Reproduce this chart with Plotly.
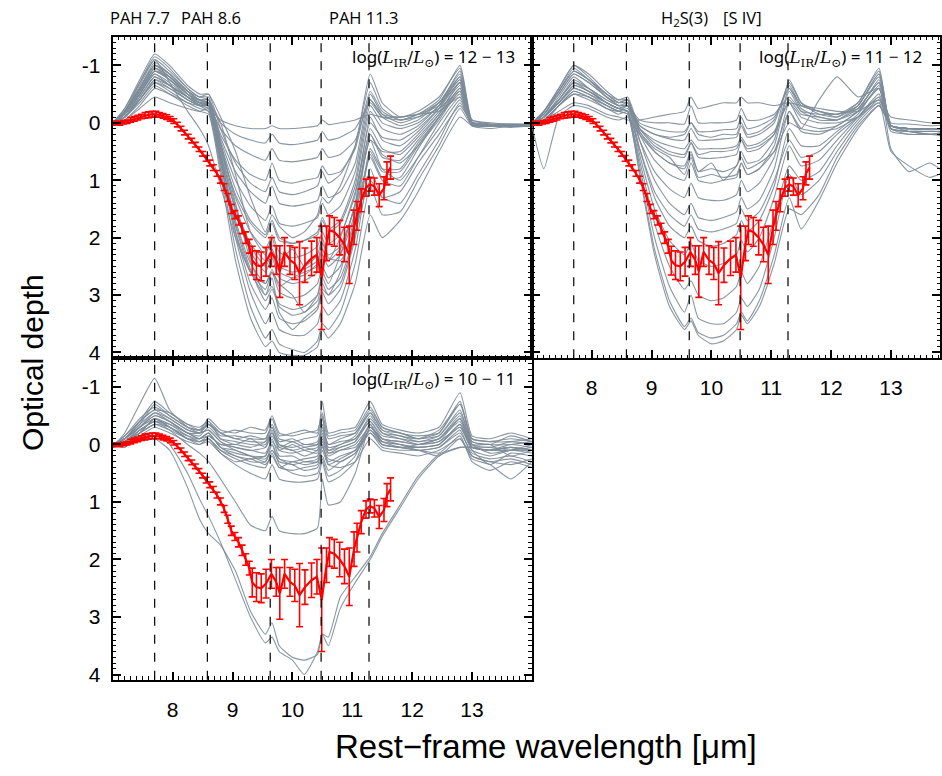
import plotly.graph_objects as go

# ---------------- data ----------------
WL = [7.00, 7.20, 7.45, 7.70, 7.95, 8.25, 8.45, 8.60, 8.80, 9.05, 9.30, 9.55, 9.66, 9.78,
      10.00, 10.20, 10.42, 10.50, 10.60, 10.80, 11.05, 11.30, 11.50, 11.80, 12.10, 12.45,
      12.80, 13.00, 13.30, 13.65, 14.00]

# log L = 12-13 (top-left)
TL = [
    [0.02, -0.05, -0.25, -0.45, -0.35, -0.25, -0.2, -0.25, -0.05, 0.05, 0.1, 0.1, 0.05, 0.1, 0.1, 0.08, 0.05, -0.05, 0.03, 0.0, -0.05, -0.15, -0.1, -0.1, -0.15, -0.2, -0.45, -0.05, 0.0, 0.02, 0.02],
    [0.0, -0.1, -0.4, -0.7, -0.55, -0.35, -0.3, -0.35, 0.0, 0.2, 0.3, 0.35, 0.2, 0.35, 0.38, 0.35, 0.3, 0.15, 0.3, 0.25, 0.1, -0.35, -0.1, -0.05, -0.1, -0.25, -0.55, 0.0, 0.02, 0.02, 0.03],
    [0.03, -0.15, -0.5, -0.85, -0.65, -0.4, -0.3, -0.3, 0.1, 0.4, 0.55, 0.65, 0.45, 0.65, 0.68, 0.65, 0.6, 0.45, 0.6, 0.55, 0.3, -0.4, -0.15, -0.1, -0.15, -0.3, -0.7, 0.0, 0.05, 0.04, 0.05],
    [0.0, -0.2, -0.6, -1.0, -0.8, -0.5, -0.35, -0.35, 0.2, 0.65, 0.9, 1.0, 0.7, 1.0, 1.05, 1.0, 0.95, 0.75, 0.9, 0.85, 0.45, -0.55, -0.2, -0.05, -0.15, -0.35, -0.75, 0.0, 0.05, 0.05, 0.03],
    [0.0, -0.25, -0.7, -1.15, -0.95, -0.6, -0.45, -0.5, 0.1, 0.7, 1.05, 1.2, 0.95, 1.2, 1.25, 1.2, 1.1, 0.85, 1.05, 0.9, 0.4, -0.85, -0.35, -0.1, -0.2, -0.45, -0.95, -0.02, 0.03, 0.04, 0.04],
    [0.02, -0.15, -0.55, -0.9, -0.75, -0.5, -0.4, -0.4, 0.25, 0.85, 1.2, 1.4, 1.1, 1.4, 1.45, 1.42, 1.35, 1.1, 1.3, 1.2, 0.7, -0.5, -0.15, 0.0, -0.1, -0.35, -0.8, 0.02, 0.05, 0.05, 0.05],
    [0.0, -0.2, -0.65, -1.1, -0.9, -0.6, -0.45, -0.45, 0.3, 1.0, 1.45, 1.7, 1.45, 1.75, 1.8, 1.75, 1.65, 1.4, 1.6, 1.45, 0.85, -0.4, -0.1, 0.05, -0.05, -0.35, -0.85, 0.0, 0.03, 0.05, 0.04],
    [0.02, -0.18, -0.6, -1.0, -0.85, -0.55, -0.4, -0.4, 0.35, 1.15, 1.7, 1.95, 1.7, 2.0, 2.1, 2.05, 1.9, 1.65, 1.85, 1.7, 1.0, -0.3, 0.0, 0.1, 0.0, -0.3, -0.9, 0.0, 0.04, 0.05, 0.05],
    [0.03, -0.1, -0.45, -0.8, -0.65, -0.45, -0.35, -0.3, 0.45, 1.25, 1.75, 2.0, 1.75, 2.05, 2.1, 2.05, 1.95, 1.7, 1.9, 1.75, 1.1, -0.2, 0.1, 0.2, 0.05, -0.3, -0.75, 0.02, 0.05, 0.06, 0.05],
    [0.0, -0.2, -0.6, -1.0, -0.85, -0.55, -0.4, -0.35, 0.4, 1.3, 1.9, 2.2, 1.95, 2.25, 2.35, 2.3, 2.15, 1.9, 2.1, 1.95, 1.25, 0.0, 0.25, 0.3, 0.1, -0.25, -0.7, 0.0, 0.04, 0.05, 0.05],
    [0.02, -0.1, -0.4, -0.7, -0.6, -0.4, -0.3, -0.25, 0.55, 1.5, 2.1, 2.4, 2.2, 2.5, 2.6, 2.55, 2.4, 2.1, 2.3, 2.15, 1.45, 0.3, 0.5, 0.5, 0.2, -0.2, -0.65, 0.03, 0.05, 0.05, 0.06],
    [0.02, -0.2, -0.55, -0.95, -0.8, -0.5, -0.38, -0.35, 0.45, 1.45, 2.15, 2.5, 2.3, 2.6, 2.7, 2.65, 2.45, 2.2, 2.4, 2.2, 1.4, -0.1, 0.3, 0.4, 0.15, -0.25, -0.8, 0.0, 0.05, 0.05, 0.05],
    [0.0, -0.15, -0.55, -0.95, -0.8, -0.5, -0.35, -0.3, 0.5, 1.55, 2.25, 2.6, 2.35, 2.7, 2.8, 2.75, 2.6, 2.3, 2.5, 2.3, 1.55, 0.1, 0.45, 0.55, 0.25, -0.15, -0.6, 0.0, 0.05, 0.04, 0.05],
    [0.03, -0.2, -0.6, -1.05, -0.85, -0.55, -0.4, -0.35, 0.55, 1.7, 2.45, 2.8, 2.6, 2.95, 3.05, 3.0, 2.8, 2.5, 2.7, 2.5, 1.7, 0.2, 0.6, 0.65, 0.3, -0.15, -0.7, 0.02, 0.06, 0.05, 0.05],
    [0.0, -0.1, -0.4, -0.75, -0.6, -0.4, -0.3, -0.25, 0.65, 1.8, 2.6, 3.0, 2.85, 3.15, 3.25, 3.2, 3.0, 2.7, 2.9, 2.7, 1.9, 0.5, 0.85, 0.85, 0.4, -0.1, -0.5, 0.03, 0.05, 0.06, 0.05],
    [0.0, -0.15, -0.5, -0.85, -0.7, -0.45, -0.32, -0.3, 0.6, 1.75, 2.55, 3.1, 2.9, 3.2, 3.35, 3.3, 3.1, 2.8, 3.0, 2.8, 1.95, 0.45, 0.8, 0.8, 0.35, -0.1, -0.6, 0.02, 0.05, 0.05, 0.05],
    [0.02, -0.15, -0.5, -0.9, -0.75, -0.5, -0.35, -0.3, 0.6, 1.9, 2.8, 3.25, 3.05, 3.4, 3.5, 3.45, 3.25, 2.95, 3.15, 2.9, 2.0, 0.55, 0.95, 0.95, 0.45, -0.1, -0.55, 0.0, 0.05, 0.05, 0.05],
    [0.0, -0.1, -0.45, -0.8, -0.65, -0.45, -0.3, -0.3, 0.7, 2.0, 2.95, 3.5, 3.3, 3.6, 3.7, 3.7, 3.5, 3.2, 3.35, 3.1, 2.2, 0.8, 1.3, 1.4, 0.9, 0.3, -0.35, 0.02, 0.05, 0.05, 0.05],
    [0.03, -0.05, -0.3, -0.6, -0.5, -0.35, -0.25, -0.2, 0.8, 2.2, 3.2, 3.75, 3.6, 3.85, 3.95, 4.0, 3.8, 3.5, 3.6, 3.3, 2.45, 1.1, 1.6, 1.55, 1.0, 0.4, -0.25, 0.05, 0.06, 0.05, 0.06],
    [0.0, -0.1, -0.35, -0.65, -0.5, -0.3, -0.2, -0.15, 0.9, 2.4, 3.4, 3.9, 3.8, 4.0, 4.05, 4.05, 3.9, 3.6, 3.75, 3.5, 2.8, 1.6, 2.0, 1.7, 1.2, 0.5, -0.1, 0.05, 0.06, 0.06, 0.05],
    [0.0, -0.2, -0.7, -1.1, -0.7, -0.2, 0.1, 0.4, 1.1, 2.0, 2.6, 2.9, 2.6, 2.8, 3.0, 3.3, 3.0, 2.6, 2.8, 2.3, 1.4, 0.3, 0.8, 1.0, 0.6, 0.1, -0.4, 0.05, 0.1, 0.05, 0.05],
    [0.02, -0.1, -0.5, -0.9, -0.8, -0.55, -0.45, -0.4, 0.0, 0.9, 1.9, 2.3, 2.0, 2.4, 2.2, 2.5, 2.3, 2.0, 2.35, 2.4, 1.9, 1.0, 1.3, 1.2, 0.7, 0.2, -0.3, 0.0, 0.05, 0.08, 0.05],
    [0.0, -0.25, -0.75, -1.2, -1.0, -0.65, -0.5, -0.5, -0.1, 0.5, 1.3, 1.9, 1.6, 1.8, 2.0, 1.9, 1.6, 1.3, 1.4, 1.1, 0.4, -0.7, -0.25, -0.05, -0.15, -0.4, -1.0, -0.05, 0.02, 0.03, 0.03],
    [0.03, -0.1, -0.4, -0.75, -0.65, -0.45, -0.35, -0.3, 0.35, 1.4, 2.4, 3.0, 2.7, 3.3, 3.6, 3.4, 3.2, 2.9, 3.0, 2.6, 1.6, 0.6, 1.0, 1.1, 0.6, 0.0, -0.45, 0.05, 0.05, 0.05, 0.05],
    [0.0, -0.15, -0.55, -0.95, -0.75, -0.45, -0.3, -0.2, 0.7, 1.9, 2.6, 2.8, 2.55, 2.85, 2.7, 2.6, 2.5, 2.2, 2.4, 2.0, 1.2, 0.2, 0.55, 0.7, 0.4, -0.05, -0.55, 0.0, 0.05, 0.05, 0.05],
]

# log L = 11-12 (top-right)
TR = [
    [0.0, -0.05, -0.2, -0.35, -0.3, -0.15, -0.1, -0.05, -0.05, -0.1, -0.15, -0.2, -0.45, -0.25, -0.3, -0.35, -0.35, -0.45, -0.35, -0.35, -0.3, -0.35, -0.3, -0.25, -0.2, -0.2, -0.4, -0.1, -0.05, 0.0, 0.0],
    [0.02, 0.0, -0.3, -0.55, -0.45, -0.25, -0.2, -0.3, -0.05, 0.0, 0.0, 0.02, -0.3, 0.0, 0.0, 0.0, -0.05, -0.25, -0.05, -0.05, -0.15, -0.45, -0.2, -0.15, -0.15, -0.25, -0.7, 0.0, 0.02, 0.05, 0.03],
    [0.0, -0.1, -0.45, -0.8, -0.6, -0.35, -0.25, -0.3, 0.0, 0.1, 0.15, 0.15, 0.0, 0.15, 0.15, 0.12, 0.1, -0.1, 0.1, 0.05, -0.1, -0.6, -0.3, -0.2, -0.15, -0.3, -0.85, 0.05, 0.1, 0.1, 0.1],
    [0.03, -0.15, -0.55, -0.95, -0.75, -0.45, -0.3, -0.35, 0.05, 0.2, 0.28, 0.3, 0.1, 0.3, 0.3, 0.28, 0.25, 0.05, 0.25, 0.2, 0.0, -0.7, -0.35, -0.2, -0.15, -0.35, -0.95, 0.1, 0.15, 0.15, 0.15],
    [0.0, -0.05, -0.3, -0.5, -0.4, -0.25, -0.15, -0.2, 0.1, 0.3, 0.4, 0.45, 0.3, 0.45, 0.45, 0.45, 0.4, 0.25, 0.4, 0.35, 0.15, -0.35, -0.1, 0.0, 0.0, -0.1, -0.45, 0.15, 0.2, 0.2, 0.2],
    [0.02, -0.2, -0.6, -1.0, -0.8, -0.5, -0.4, -0.45, 0.1, 0.4, 0.55, 0.6, 0.35, 0.6, 0.62, 0.6, 0.55, 0.3, 0.5, 0.45, 0.2, -0.75, -0.35, -0.15, -0.1, -0.35, -0.9, 0.05, 0.1, 0.1, 0.1],
    [0.05, 0.8, -0.1, -0.3, -0.25, -0.1, -0.05, -0.1, 0.2, 0.5, 0.7, 0.75, 0.5, 0.85, 0.7, 1.0, 0.75, 0.6, 0.8, 0.7, 0.5, 0.0, 0.1, -0.4, -0.8, -0.45, -0.6, 0.45, 0.85, 0.7, 0.95],
    [0.0, -0.15, -0.5, -0.85, -0.7, -0.45, -0.35, -0.4, 0.2, 0.65, 0.9, 1.0, 0.7, 1.0, 1.05, 1.0, 0.95, 0.7, 0.9, 0.8, 0.4, -0.55, -0.2, -0.05, -0.05, -0.25, -0.7, 0.1, 0.15, 0.15, 0.15],
    [0.02, -0.1, -0.4, -0.7, -0.6, -0.4, -0.3, -0.3, 0.3, 0.85, 1.15, 1.3, 1.05, 1.3, 1.35, 1.35, 1.25, 1.0, 1.2, 1.05, 0.6, -0.35, 0.0, 0.1, 0.05, -0.2, -0.6, 0.05, 0.12, 0.12, 0.12],
    [0.0, -0.2, -0.6, -1.0, -0.85, -0.55, -0.4, -0.4, 0.3, 1.0, 1.4, 1.6, 1.4, 1.65, 1.7, 1.65, 1.55, 1.3, 1.5, 1.35, 0.8, -0.2, 0.15, 0.2, 0.05, -0.2, -0.75, 0.05, 0.1, 0.1, 0.1],
    [0.02, -0.1, -0.35, -0.6, -0.5, -0.35, -0.25, -0.2, 0.45, 1.2, 1.6, 1.8, 1.6, 1.85, 1.9, 1.85, 1.75, 1.5, 1.7, 1.55, 1.0, 0.3, 0.6, 0.5, 0.2, -0.1, -0.45, 0.1, 0.15, 0.2, 0.15],
    [0.0, -0.2, -0.55, -0.9, -0.75, -0.5, -0.35, -0.35, 0.45, 1.3, 1.8, 2.0, 1.8, 2.05, 2.15, 2.1, 1.95, 1.7, 1.9, 1.7, 1.1, 0.1, 0.4, 0.4, 0.15, -0.15, -0.65, 0.05, 0.1, 0.12, 0.1],
    [0.0, -0.15, -0.5, -0.85, -0.7, -0.45, -0.3, -0.3, 0.55, 1.5, 2.05, 2.3, 2.1, 2.4, 2.5, 2.45, 2.3, 2.05, 2.25, 2.0, 1.3, 0.4, 0.75, 0.65, 0.3, -0.1, -0.5, 0.05, 0.1, 0.1, 0.1],
    [0.02, -0.1, -0.35, -0.65, -0.55, -0.35, -0.25, -0.2, 0.65, 1.75, 2.5, 2.9, 2.75, 3.0, 3.1, 3.05, 2.85, 2.6, 2.8, 2.5, 1.65, 0.75, 1.0, 0.85, 0.4, -0.05, -0.4, 0.05, 0.1, 0.1, 0.1],
    [0.0, -0.1, -0.4, -0.7, -0.55, -0.35, -0.25, -0.2, 0.75, 2.0, 2.85, 3.3, 3.0, 3.4, 3.5, 3.5, 3.3, 3.05, 3.2, 2.9, 2.0, 0.9, 1.25, 1.0, 0.5, 0.0, -0.35, 0.05, 0.1, 0.1, 0.1],
    [0.02, -0.05, -0.3, -0.55, -0.45, -0.3, -0.2, -0.15, 0.85, 2.2, 3.1, 3.55, 3.4, 3.65, 3.75, 3.7, 3.5, 3.3, 3.45, 3.1, 2.3, 1.3, 1.85, 1.35, 0.7, 0.1, -0.3, 0.05, 0.1, 0.1, 0.1],
    [0.0, -0.1, -0.35, -0.6, -0.5, -0.3, -0.2, -0.15, 0.9, 2.3, 3.2, 3.6, 3.45, 3.7, 3.85, 3.8, 3.6, 3.35, 3.5, 3.2, 2.45, 1.5, 1.6, 1.25, 0.6, 0.05, -0.3, 0.05, 0.1, 0.1, 0.1],
    [0.0, -0.1, -0.35, -0.65, -0.55, -0.35, -0.25, -0.3, 0.1, 0.35, 0.5, 0.55, 0.35, 0.55, 0.5, 0.5, 0.45, 0.3, 0.45, 0.4, 0.2, -0.4, -0.15, -0.1, -0.05, -0.2, -0.6, 0.1, 0.15, 0.15, 0.15],
    [0.02, -0.2, -0.55, -0.9, -0.75, -0.5, -0.35, -0.4, 0.15, 0.5, 0.7, 0.8, 0.55, 0.85, 0.8, 0.85, 0.75, 0.5, 0.7, 0.65, 0.3, -0.6, -0.25, -0.1, -0.05, -0.3, -0.8, 0.05, 0.15, 0.2, 0.15],
    [0.0, -0.15, -0.4, -0.75, -0.6, -0.4, -0.3, -0.3, 0.05, 0.2, 0.25, 0.2, 0.0, 0.2, 0.25, 0.2, 0.2, 0.0, 0.2, 0.15, -0.05, -0.65, -0.3, -0.2, -0.1, -0.3, -0.85, 0.1, 0.2, 0.2, 0.25],
    [0.03, -0.05, -0.3, -0.5, -0.45, -0.3, -0.2, -0.25, 0.15, 0.45, 0.6, 0.9, 0.6, 0.95, 0.9, 0.95, 0.9, 0.7, 0.9, 0.8, 0.5, -0.2, 0.1, 0.15, 0.1, -0.1, -0.35, 0.5, 0.75, 0.95, 0.8],
]

# log L = 10-11 (bottom-left)
BL = [
    [0.0, -0.1, -0.3, -0.5, -0.4, -0.2, -0.15, -0.3, -0.1, -0.05, 0.0, 0.0, -0.2, 0.0, 0.05, 0.0, 0.0, -0.3, 0.0, -0.05, -0.1, -0.4, -0.15, -0.1, -0.05, -0.1, -0.5, 0.0, 0.05, -0.05, 0.0],
    [0.05, -0.2, -0.7, -1.15, -0.6, -0.3, -0.2, -0.25, -0.05, 0.05, 0.1, 0.05, -0.25, 0.1, 0.15, 0.1, 0.05, -0.2, 0.1, 0.05, -0.05, -0.5, -0.2, -0.1, 0.0, -0.1, -0.4, 0.05, 0.1, 0.0, 0.05],
    [0.0, -0.05, -0.25, -0.4, -0.3, -0.15, -0.1, -0.2, 0.05, 0.15, 0.2, 0.2, 0.0, 0.25, 0.3, 0.25, 0.2, -0.05, 0.2, 0.1, 0.0, -0.3, -0.1, 0.0, 0.05, 0.0, -0.3, 0.1, 0.2, 0.1, 0.15],
    [0.02, -0.15, -0.45, -0.65, -0.5, -0.3, -0.25, -0.35, -0.15, -0.15, -0.1, -0.1, -0.35, -0.1, -0.05, -0.1, -0.15, -0.45, -0.1, -0.15, -0.2, -0.6, -0.3, -0.2, -0.15, -0.2, -0.7, -0.1, -0.05, -0.1, -0.05],
    [0.0, 0.05, -0.15, -0.3, -0.2, -0.05, 0.0, -0.1, 0.1, 0.25, 0.35, 0.4, 0.15, 0.4, 0.45, 0.4, 0.35, 0.1, 0.35, 0.25, 0.1, -0.2, 0.0, 0.05, 0.1, 0.05, -0.2, 0.15, 0.25, 0.2, 0.3],
    [0.05, -0.1, -0.35, -0.55, -0.45, -0.25, -0.2, -0.25, -0.05, 0.1, 0.2, 0.3, 0.0, 0.35, 0.5, 0.55, 0.5, 0.25, 0.55, 0.45, 0.2, -0.35, 0.0, 0.05, 0.0, -0.1, -0.45, 0.05, 0.1, 0.05, 0.1],
    [0.0, -0.1, -0.4, -0.6, -0.45, -0.25, -0.2, -0.35, -0.2, -0.25, -0.2, -0.2, -0.45, -0.15, -0.2, -0.25, -0.2, -0.75, -0.2, -0.25, -0.3, -0.75, -0.35, -0.25, -0.2, -0.3, -0.9, -0.15, -0.1, -0.2, -0.1],
    [0.03, 0.0, -0.2, -0.35, -0.25, -0.1, -0.05, -0.15, 0.0, 0.05, 0.1, 0.15, -0.05, 0.1, 0.0, 0.1, 0.15, -0.1, 0.15, 0.1, 0.05, -0.25, 0.0, 0.05, 0.1, 0.2, -0.1, 0.25, 0.35, 0.6, 0.3],
    [0.0, -0.1, -0.3, -0.45, -0.35, -0.15, -0.05, -0.1, 0.15, 0.35, 0.5, 0.6, 0.35, 0.6, 0.65, 0.65, 0.6, 0.3, 0.65, 0.55, 0.3, -0.3, -0.05, 0.0, 0.05, 0.0, -0.35, 0.05, 0.1, 0.1, 0.05],
    [0.0, -0.15, -0.4, -0.6, -0.55, -0.35, -0.25, -0.35, -0.2, -0.1, -0.05, -0.05, -0.3, 0.0, 0.1, 0.05, 0.0, -0.25, 0.05, 0.0, -0.15, -0.55, -0.25, -0.15, -0.1, -0.15, -0.55, -0.05, 0.0, 0.0, -0.05],
    [0.03, -0.05, -0.2, -0.45, -0.3, -0.1, -0.1, -0.2, 0.05, 0.2, 0.25, 0.2, -0.1, 0.2, 0.2, 0.3, 0.25, 0.0, 0.3, 0.2, 0.1, -0.35, -0.05, 0.0, 0.1, 0.05, -0.25, 0.2, 0.3, 0.25, 0.35],
    [0.0, -0.1, -0.3, -0.5, -0.4, -0.2, -0.2, -0.4, -0.1, 0.0, -0.1, 0.05, -0.15, 0.05, -0.05, 0.05, 0.1, -0.5, 0.1, 0.0, -0.1, -0.45, -0.2, -0.15, -0.05, -0.15, -0.6, 0.0, 0.15, 0.1, 0.0],
    [0.05, 0.0, -0.25, -0.4, -0.35, -0.2, -0.1, -0.2, 0.05, 0.1, 0.2, 0.25, 0.1, 0.3, 0.35, 0.45, 0.4, 0.2, 0.45, 0.3, 0.15, -0.25, -0.05, 0.05, 0.05, 0.0, -0.35, 0.1, 0.35, 0.15, 0.2],
    [0.0, -0.1, -0.35, -0.7, -0.5, -0.3, -0.25, -0.45, -0.25, -0.2, -0.3, -0.25, -0.5, -0.2, -0.15, -0.2, -0.25, -0.55, -0.15, -0.2, -0.25, -0.65, -0.3, -0.2, -0.1, -0.2, -0.75, -0.05, 0.0, -0.15, -0.05],
    [0.02, -0.05, -0.3, -0.55, -0.4, -0.2, -0.1, -0.15, 0.0, 0.0, 0.05, -0.05, -0.2, 0.05, 0.1, 0.2, 0.1, -0.15, 0.15, 0.05, -0.05, -0.4, -0.1, -0.05, 0.0, -0.05, -0.45, 0.0, 0.0, 0.2, 0.1],
    [0.0, 0.0, -0.2, -0.45, -0.3, -0.1, 0.0, -0.05, 0.15, 0.3, 0.25, 0.35, 0.2, 0.4, 0.3, 0.35, 0.3, 0.05, 0.25, 0.3, 0.15, -0.2, 0.05, 0.1, 0.1, 0.15, -0.15, 0.3, 0.45, 0.3, 0.4],
    [0.03, -0.1, -0.4, -0.75, -0.55, -0.35, -0.3, -0.4, -0.2, -0.1, -0.15, -0.1, -0.3, -0.05, -0.1, 0.0, -0.05, -0.35, 0.0, -0.1, -0.2, -0.55, -0.25, -0.2, -0.1, -0.25, -0.7, -0.1, -0.05, -0.05, -0.1],
    [0.0, -0.05, -0.2, -0.35, -0.3, -0.1, -0.05, -0.1, 0.1, 0.2, 0.3, 0.3, 0.1, 0.25, 0.35, 0.3, 0.3, 0.0, 0.35, 0.4, 0.3, -0.1, 0.1, 0.15, 0.2, 0.1, -0.1, 0.2, 0.3, 0.35, 0.25],
    [0.0, -0.05, -0.25, -0.4, -0.25, 0.0, 0.15, 0.3, 0.6, 1.0, 1.4, 1.5, 1.25, 1.5, 1.55, 1.55, 1.45, 0.6, 1.05, 1.0, 0.5, -0.3, -0.1, -0.05, 0.0, -0.05, -0.3, 0.05, 0.1, 0.05, 0.1],
    [0.0, -0.05, -0.1, -0.1, 0.1, 0.75, 1.3, 1.55, 1.75, 2.2, 2.9, 3.3, 3.1, 3.5, 3.7, 3.75, 3.65, 3.3, 3.35, 2.65, 2.3, 1.95, 1.55, 1.05, 0.55, 0.17, 0.05, 0.05, 0.05, 0.1, 0.1],
    [0.02, 0.0, -0.1, -0.2, 0.0, 0.5, 0.95, 1.25, 1.7, 2.35, 3.0, 3.45, 3.35, 3.6, 3.75, 4.0, 3.6, 3.3, 3.5, 2.85, 2.4, 2.0, 1.6, 1.1, 0.6, 0.2, 0.05, 0.05, 0.1, 0.05, 0.1],
]

# mean template (red, with error bars) – identical in all panels
RED_WL = [7.00, 7.06, 7.12, 7.18, 7.24, 7.30, 7.36, 7.42, 7.48, 7.54, 7.60, 7.66, 7.72, 7.78,
          7.84, 7.90, 7.96, 8.02, 8.08, 8.14, 8.20, 8.26, 8.32, 8.38, 8.44, 8.50, 8.56, 8.62,
          8.68, 8.74, 8.80, 8.86, 8.92, 8.98, 9.04, 9.10, 9.16, 9.22, 9.28, 9.33, 9.40, 9.48,
          9.56, 9.65, 9.73, 9.79, 9.87, 9.96, 10.04, 10.12, 10.21, 10.32, 10.41, 10.49, 10.57,
          10.62, 10.70, 10.79, 10.87, 10.95, 11.03, 11.08, 11.15, 11.23, 11.30, 11.37, 11.45,
          11.53, 11.58, 11.64]
RED_TAU = [0.01, 0.00, 0.01, -0.01, -0.02, -0.05, -0.07, -0.09, -0.11, -0.13, -0.14, -0.15, -0.15, -0.14,
           -0.12, -0.10, -0.07, -0.03, 0.03, 0.10, 0.17, 0.24, 0.31, 0.38, 0.46, 0.54, 0.62, 0.70,
           0.78, 0.88, 0.99, 1.12, 1.30, 1.50, 1.60, 1.70, 1.84, 2.00, 2.15, 2.40, 2.48, 2.50,
           2.42, 2.25, 2.39, 2.59, 2.25, 2.39, 2.45, 2.62, 2.48, 2.36, 2.30, 2.70, 2.10,
           1.87, 1.90, 2.00, 2.12, 2.30, 1.82, 1.62, 1.35, 1.13, 1.07, 1.11, 1.26,
           1.14, 0.88, 0.78]
RED_ERR = [0.03, 0.03, 0.03, 0.03, 0.03, 0.04, 0.04, 0.04, 0.04, 0.05, 0.05, 0.05, 0.05, 0.04,
           0.04, 0.04, 0.04, 0.04, 0.04, 0.04, 0.04, 0.04, 0.04, 0.04, 0.04, 0.04, 0.05, 0.05,
           0.05, 0.05, 0.06, 0.06, 0.07, 0.08, 0.07, 0.08, 0.09, 0.10, 0.12, 0.25, 0.25, 0.25,
           0.25, 0.25, 0.25, 0.45, 0.25, 0.25, 0.28, 0.55, 0.30, 0.30, 0.30, 0.90, 0.30,
           0.25, 0.25, 0.30, 0.30, 0.50, 0.30, 0.25, 0.20, 0.15, 0.12, 0.15, 0.20,
           0.20, 0.20, 0.20]

DASH_WL = [7.7, 8.58, 9.63, 10.48, 11.28]
X_TICKS = [8, 9, 10, 11, 12, 13]
Y_TICKS = [-1, 0, 1, 2, 3, 4]
Y_TICKTEXT = ["-1", "0", "1", "2", "3", "4"]
PANEL_LABELS = ["12 − 13", "11 − 12", "10 − 11"]
TOP_LABELS = [("PAH 7.7", 140), ("PAH 8.6", 211), ("PAH 11.3", 364),
              ("H<sub>2</sub>S(3)", 686), ("[S IV]", 744)]

# ---------------- figure ----------------
W, H = 942, 776
GRAY = "#7e8c99"
RED = "#ff0000"

XL = [113 / W, 533 / W]
XR = [533 / W, 1.0]
YT = [1 - 361 / H, 1 - 37 / H]
YB = [1 - 685 / H, 1 - 361 / H]

fig = go.Figure()

panels = [("x2", "y2", TL), ("x3", "y3", TR), ("x", "y", BL)]

for xa, ya, curves in panels:
    for c in curves:
        fig.add_trace(go.Scatter(x=WL, y=c, xaxis=xa, yaxis=ya, mode="lines",
                                 line=dict(color=GRAY, width=1.1, shape="spline", smoothing=0.5),
                                 opacity=0.9, hoverinfo="skip", showlegend=False))
for xa, ya, _ in panels:
    fig.add_trace(go.Scatter(x=RED_WL, y=RED_TAU, xaxis=xa, yaxis=ya, mode="lines",
                             line=dict(color=RED, width=2.2),
                             error_y=dict(type="data", array=RED_ERR, color=RED,
                                          thickness=1.6, width=3.5),
                             showlegend=False))

axis_common = dict(showline=True, linewidth=2, linecolor="black", mirror="allticks",
                   ticks="inside", ticklen=8, tickwidth=1.5, tickcolor="black",
                   showgrid=False, zeroline=False,
                   tickfont=dict(family="Liberation Sans, Arial", size=21, color="black"))
xminor = dict(dtick=0.1, ticklen=3.5, ticks="inside", tickcolor="black", tickwidth=1, showgrid=False)
yminor = dict(dtick=0.1, ticklen=3.5, ticks="inside", tickcolor="black", tickwidth=1, showgrid=False)

fig.update_layout(
    width=W, height=H,
    margin=dict(l=0, r=0, t=0, b=0),
    paper_bgcolor="white", plot_bgcolor="white",
    xaxis=dict(domain=XL, anchor="y", range=[7.0, 14.0], tickvals=X_TICKS,
               ticklabelstandoff=10, minor=xminor, **axis_common),
    yaxis=dict(domain=YB, anchor="x", range=[4.09, -1.5], tickvals=Y_TICKS, ticktext=Y_TICKTEXT,
               ticklabelstandoff=6, minor=yminor, **axis_common),
    xaxis2=dict(domain=XL, anchor="y2", range=[7.0, 14.0], tickvals=X_TICKS,
                showticklabels=False, minor=xminor, **axis_common),
    yaxis2=dict(domain=YT, anchor="x2", range=[4.10, -1.5], tickvals=Y_TICKS, ticktext=Y_TICKTEXT,
                ticklabelstandoff=6, minor=yminor, **axis_common),
    xaxis3=dict(domain=XR, anchor="y3", range=[7.0, 13.82], tickvals=X_TICKS,
                ticklabelstandoff=10, minor=xminor, **axis_common),
    yaxis3=dict(domain=YT, anchor="x3", range=[4.10, -1.5], tickvals=Y_TICKS,
                showticklabels=False, minor=yminor, **axis_common),
)

shapes = []
for xa, ya, _ in panels:
    for w in DASH_WL:
        shapes.append(dict(type="line", xref=xa, yref=f"{ya} domain", x0=w, x1=w, y0=0, y1=1,
                           line=dict(color="black", width=1.2, dash="dash")))
fig.update_layout(shapes=shapes)

annotations = []
lum_pos = [("x2 domain", "y2 domain", 0.965), ("x3 domain", "y3 domain", 0.96), ("x domain", "y domain", 0.965)]
for (xr, yr, xx), lab in zip(lum_pos, PANEL_LABELS):
    annotations.append(dict(
        xref=xr, yref=yr, x=xx, y=0.935, xanchor="right", yanchor="middle", showarrow=False,
        text=("log(<span style=\"font-family:'DejaVu Serif'\"><i>L</i><sub>IR</sub>/<i>L</i>"
              "<sub>⊙</sub></span>) = " + lab),
        font=dict(family="Noto Sans", size=17, color="black")))
for txt, px in TOP_LABELS:
    annotations.append(dict(xref="paper", yref="paper", x=px / W, y=1 - 18 / H,
                            xanchor="center", yanchor="middle", showarrow=False, text=txt,
                            font=dict(family="Open Sans", size=16.5, color="black")))
annotations.append(dict(xref="paper", yref="paper", x=32 / W, y=1 - 365 / H, textangle=-90,
                        xanchor="center", yanchor="middle", showarrow=False, text="Optical depth",
                        font=dict(family="Liberation Sans, Arial", size=30, color="black")))
annotations.append(dict(xref="paper", yref="paper", x=547 / W, y=1 - 752 / H,
                        xanchor="center", yanchor="middle", showarrow=False,
                        text="Rest−frame wavelength [μm]",
                        font=dict(family="Liberation Sans, Arial", size=33, color="black")))
fig.update_layout(annotations=annotations)

fig.write_html("out.html", config={"displayModeBar": False},
               post_script="document.body.style.margin='0';document.body.style.overflow='hidden';")
